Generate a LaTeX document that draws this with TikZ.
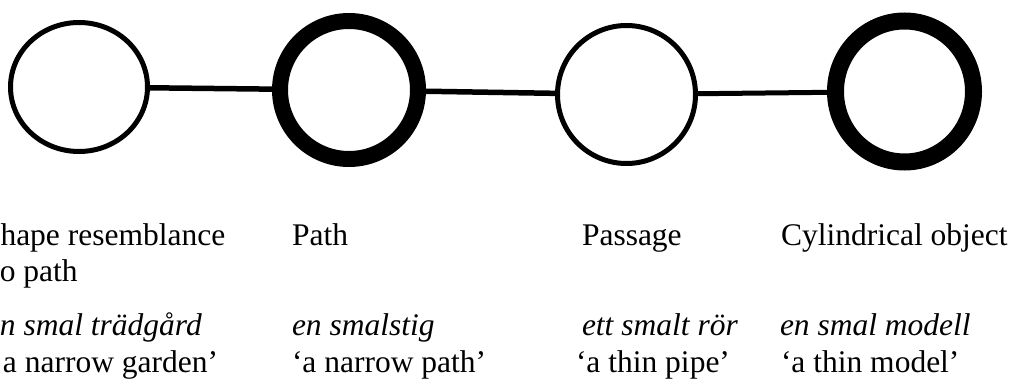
\documentclass[tikz,border=0pt]{standalone}
\usepackage{fontspec}
\setmainfont{Liberation Serif}
\usetikzlibrary{shapes.geometric}
\tikzset{
  thinring/.style={draw=black, fill=none, line width=5pt, inner sep=0pt, outer sep=0pt},
  thickring/.style={draw=black, fill=none, inner sep=0pt, outer sep=0pt},
  conn/.style={draw=black, line width=5.5pt},
  lbl/.style={anchor=base west, inner sep=0pt, outer sep=0pt, font=\fontsize{31.5}{37}\selectfont},
  ilbl/.style={lbl, font=\fontsize{31.5}{37}\selectfont\itshape}
}
\begin{document}
\begin{tikzpicture}[x=1pt, y=-1pt]
\useasboundingbox (0,0) rectangle (1015,385);
\clip (0,0) rectangle (1015,385);
\fill[white] (0,0) rectangle (1015,385);
% rings
\node[thinring, ellipse, minimum width=137pt, minimum height=129pt] (c1) at (79,87) {};
\node[thickring, circle, line width=16pt, minimum size=138pt] (c2) at (349,90) {};
\node[thinring, circle, minimum size=138pt] (c3) at (626.5,94.5) {};
\node[thickring, ellipse, line width=17pt, minimum width=138pt, minimum height=141pt] (c4) at (904.5,91.5) {};
% connectors
\draw[conn] (c1) -- (c2);
\draw[conn] (c2) -- (c3);
\draw[conn, line width=5pt] (c3) -- (c4);
% labels (the first column is cut by the left edge, as in the reference)
\node[lbl] (t1a) at (-17,245) {Shape resemblance};
\node[lbl] (t1b) at (-9,281) {to path};
\node[ilbl] (t1c) at (-14,335) {en smal trädgård};
\node[lbl] (t1d) at (-7.5,372) {‘a narrow garden’};
\node[lbl] (t2a) at (292,245) {Path};
\node[ilbl] (t2c) at (292,335) {en smalstig};
\node[lbl] (t2d) at (292,372) {‘a narrow path’};
\node[lbl] (t3a) at (582,245) {Passage};
\node[ilbl] (t3c) at (582,335) {ett smalt rör};
\node[lbl] (t3d) at (576,372) {‘a thin pipe’};
\node[lbl] (t4a) at (781,245) {Cylindrical object};
\node[ilbl] (t4c) at (780,335) {en smal modell};
\node[lbl] (t4d) at (781,372) {‘a thin model’};
\end{tikzpicture}
\end{document}
